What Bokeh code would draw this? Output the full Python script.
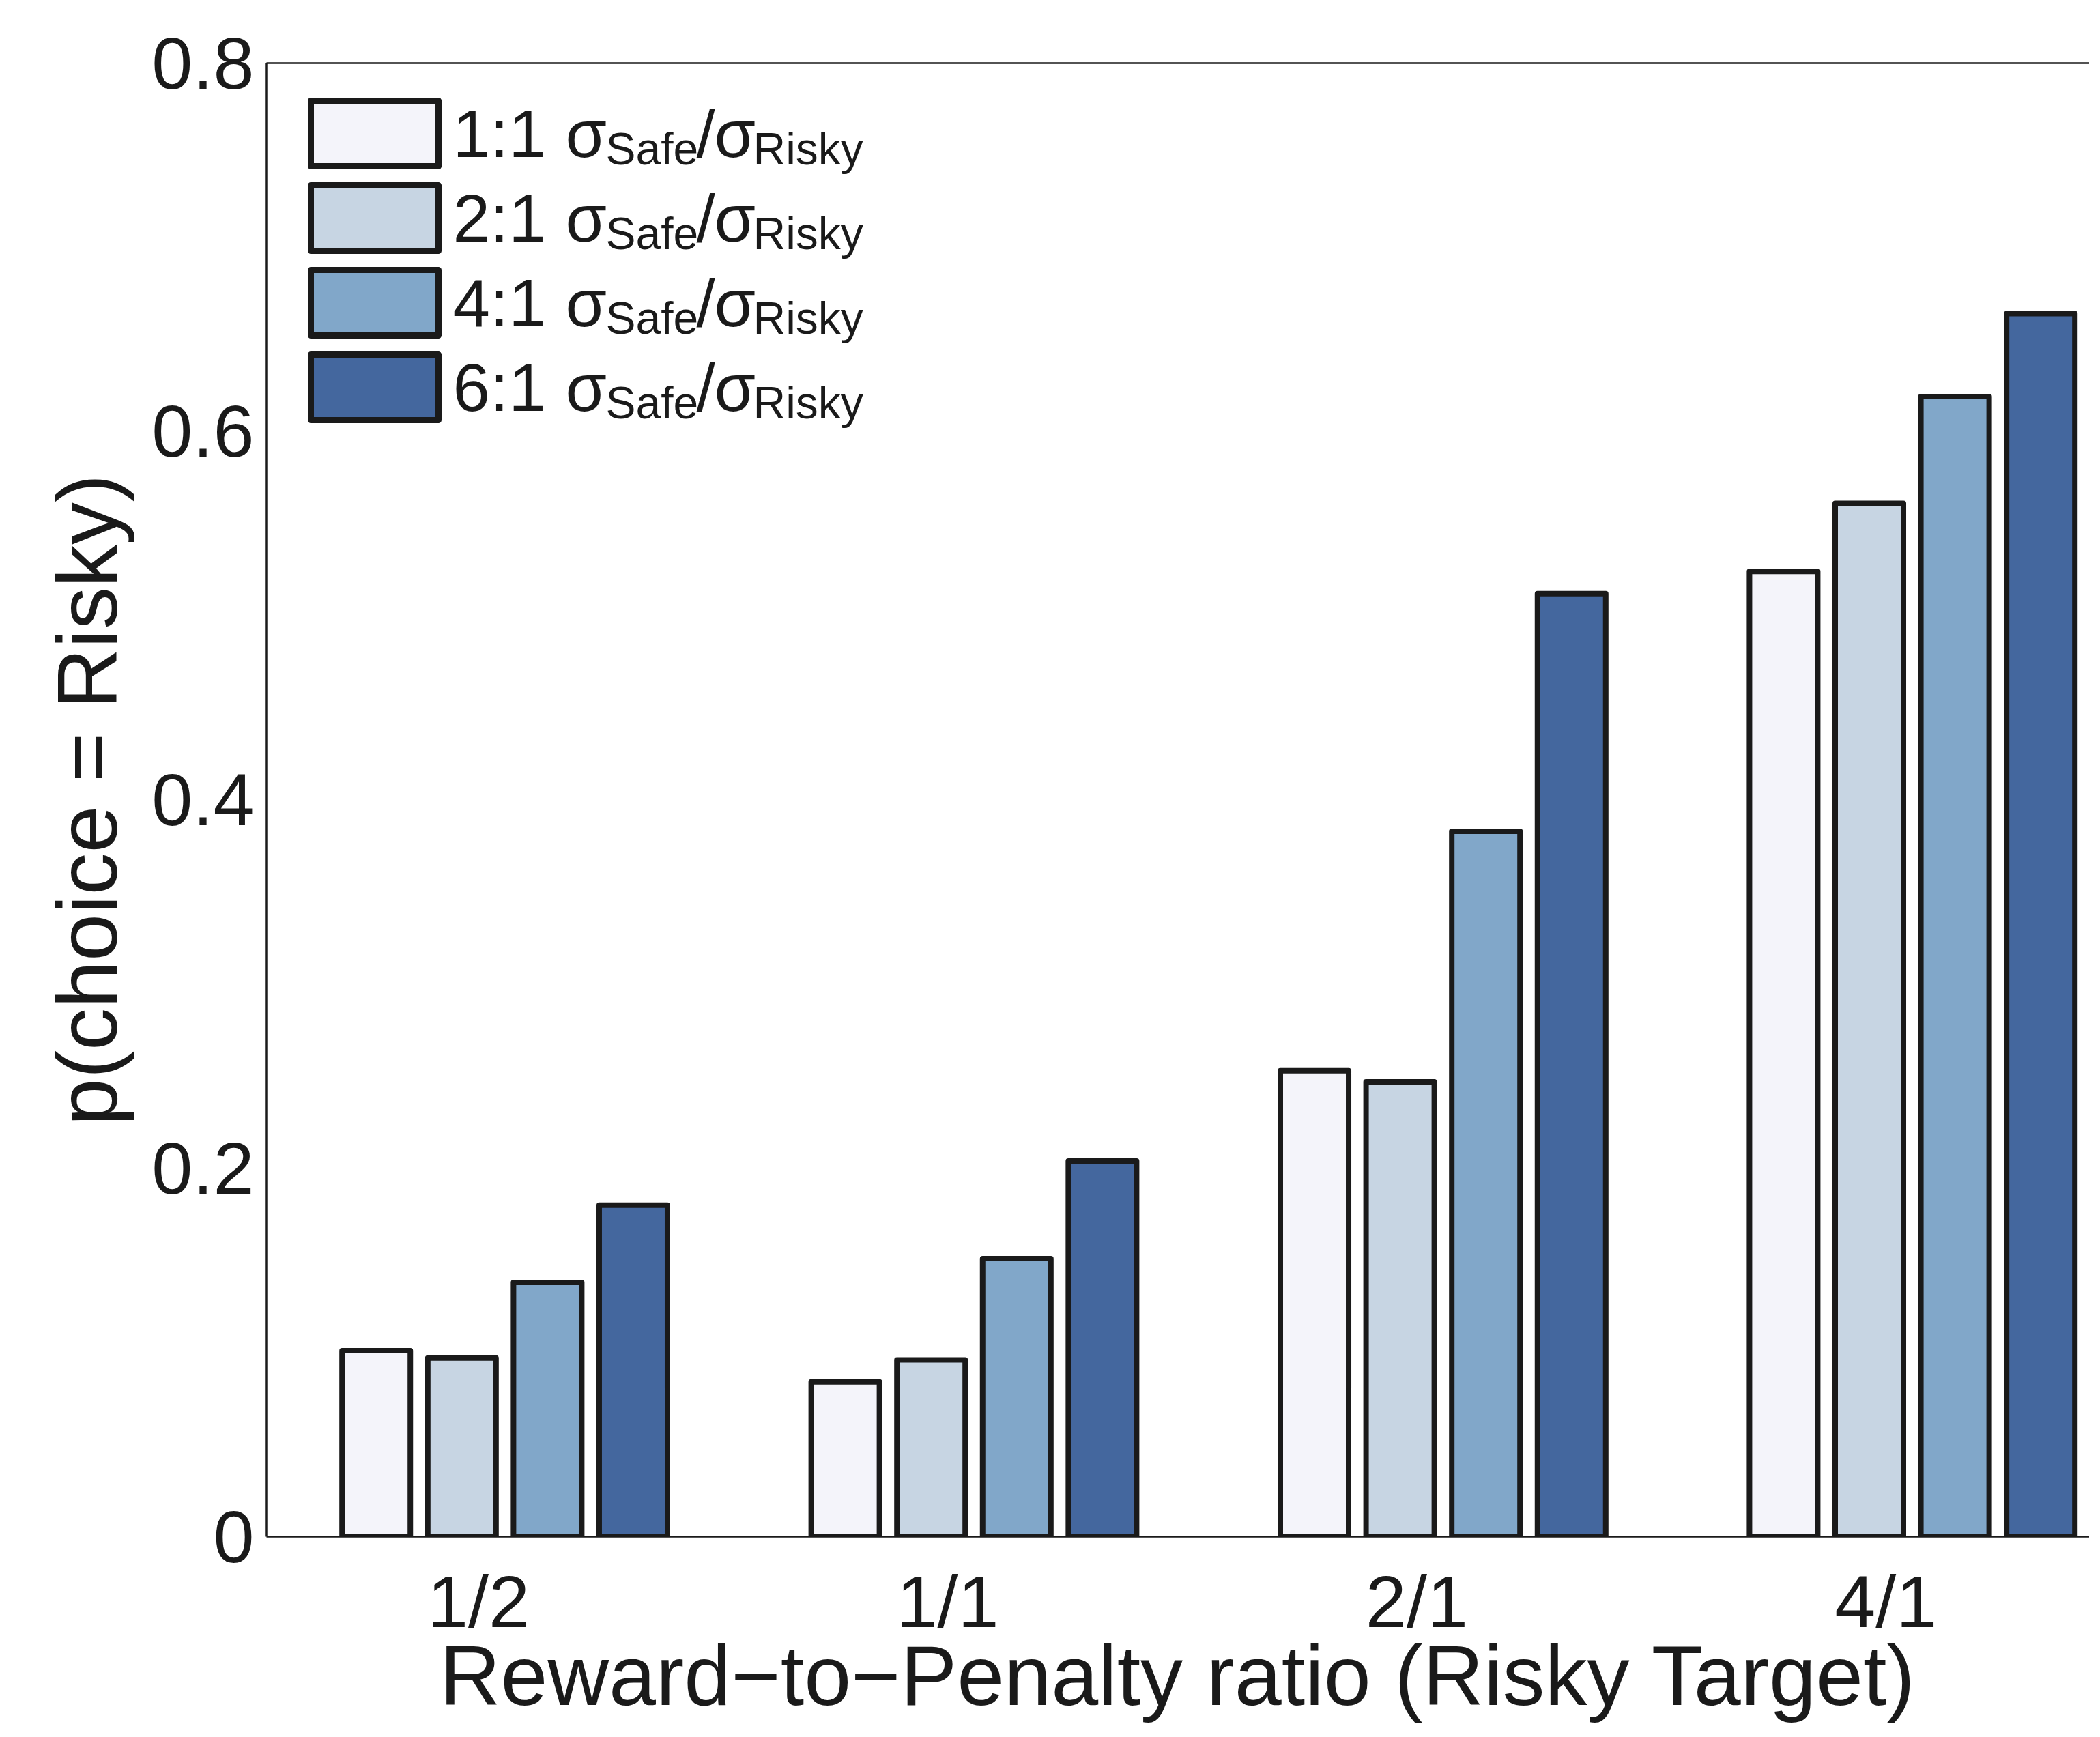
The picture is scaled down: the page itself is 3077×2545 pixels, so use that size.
from bokeh.plotting import figure
from bokeh.models import FixedTicker, LinearAxis, Range1d
from bokeh.core.properties import value
from bokeh.embed import file_html
from bokeh.resources import INLINE

# ---------------- data ----------------
categories = ["1/2", "1/1", "2/1", "4/1"]
series = ["1:1", "2:1", "4:1", "6:1"]
vals_1to1 = [0.101, 0.084, 0.253, 0.524]
vals_2to1 = [0.097, 0.096, 0.247, 0.561]
vals_4to1 = [0.138, 0.151, 0.383, 0.619]
vals_6to1 = [0.180, 0.204, 0.512, 0.664]
y_ticks = [0.0, 0.2, 0.4, 0.6, 0.8]
y_tick_labels = ["0", "0.2", "0.4", "0.6", "0.8"]
x_title = "Reward\u2212to\u2212Penalty ratio (Risky Target)"
y_title = "p(choice = Risky)"

all_vals = [vals_1to1, vals_2to1, vals_4to1, vals_6to1]
colors = ["#F4F4FA", "#C7D5E3", "#81A7C9", "#44679E"]
INK = "#1a1a1a"
FONT = "Liberation Sans"

# ---------------- layout ----------------
W, H = 3061, 2529
FL, FR, FT, FB = 390.0, 3061.0, 92.0, 2251.0   # frame edges, pixels
TICK1_PX, TICK_STEP_PX = 700.6, 687.4
X0 = 1 - (TICK1_PX - FL) / TICK_STEP_PX
X1 = 1 + (FR - TICK1_PX) / TICK_STEP_PX
Y0, Y1 = 0.0, 0.8
GROUP_SHIFT = 0.056
PITCH = 0.1827
BAR_W = 0.1455


def dx(px):
    return X0 + (px - FL) * (X1 - X0) / (FR - FL)


def dy(py):
    return Y1 - (py - FT) * (Y1 - Y0) / (FB - FT)


p = figure(
    width=W, height=H,
    output_backend="svg", toolbar_location=None,
    x_range=Range1d(X0, X1), y_range=Range1d(Y0, Y1),
    min_border_left=int(FL), min_border_right=0,
    min_border_top=int(FT), min_border_bottom=int(H - FB),
    background_fill_color="white", border_fill_color="white",
    outline_line_color=None,
)
p.grid.visible = False

# bars
for j, vals in enumerate(all_vals):
    xs = [i + 1 + GROUP_SHIFT + (j - 1.5) * PITCH for i in range(len(categories))]
    p.vbar(x=xs, top=vals, bottom=0, width=BAR_W,
           fill_color=colors[j], line_color=INK, line_width=8, line_join="round")

# axes
xa = p.xaxis[0]
xa.ticker = FixedTicker(ticks=[1, 2, 3, 4])
xa.major_label_overrides = {i + 1: c for i, c in enumerate(categories)}
xa.axis_label = x_title
xa.major_label_standoff = 34
xa.axis_label_standoff = -24

ya = p.yaxis[0]
ya.ticker = FixedTicker(ticks=y_ticks)
ya.major_label_overrides = {t: l for t, l in zip(y_ticks, y_tick_labels)}
ya.axis_label = y_title
ya.major_label_standoff = 18
ya.axis_label_standoff = 22

for ax in (xa, ya):
    ax.axis_line_color = INK
    ax.axis_line_width = 2.5
    ax.major_tick_out = 0
    ax.major_tick_in = 0
    ax.minor_tick_out = 0
    ax.minor_tick_in = 0
    ax.major_label_text_font = FONT
    ax.major_label_text_font_size = "108px"
    ax.major_label_text_color = INK
    ax.major_label_text_line_height = 1.0
    ax.axis_label_text_font = FONT
    ax.axis_label_text_font_size = "124px"
    ax.axis_label_text_font_style = "normal"
    ax.axis_label_text_color = INK
    ax.axis_label_text_line_height = 1.0

top_axis = LinearAxis(ticker=FixedTicker(ticks=[]), axis_line_color=INK, axis_line_width=2.5,
                      major_tick_out=0, major_tick_in=0, minor_tick_out=0, minor_tick_in=0,
                      major_label_text_font_size="0px")
p.add_layout(top_axis, "above")

# legend (manual, to allow subscripts)
ROW = 124
n = len(series)
p.quad(left=[dx(455)] * n, right=[dx(642)] * n,
       top=[dy(147 + k * ROW) for k in range(n)],
       bottom=[dy(243 + k * ROW) for k in range(n)],
       fill_color=colors, line_color=INK, line_width=9, line_join="round")

main_y = [dy(195 + k * ROW) for k in range(n)]
sub_y = [dy(217 + k * ROW) for k in range(n)]

pieces = [
    (663, main_y, series, "98px"),
    (828, main_y, ["\u03c3"] * n, "98px"),
    (887, sub_y, ["Safe"] * n, "66px"),
    (1020, main_y, ["/"] * n, "98px"),
    (1046, main_y, ["\u03c3"] * n, "98px"),
    (1103, sub_y, ["Risky"] * n, "66px"),
]
for px, ys, txt, size in pieces:
    p.text(x=[dx(px)] * n, y=ys, text=txt,
           text_font=value(FONT), text_font_size=size, text_color=INK,
           text_align="left", text_baseline="alphabetic")

open("out.html", "w").write(file_html(p, INLINE))
